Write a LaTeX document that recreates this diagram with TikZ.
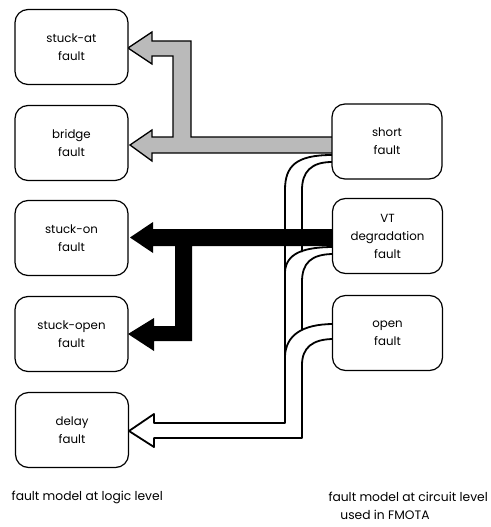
\documentclass[tikz,border=0pt]{standalone}
\usepackage{fontspec}
\setmainfont{Poppins}
\begin{document}
\begin{tikzpicture}[x=1pt,y=-1pt,
  fbox/.style={draw=black,line width=1.2pt,rounded corners=13pt,fill=white,
    minimum width=113pt,minimum height=75pt,align=center,font=\fontsize{11.8}{18}\selectfont,inner sep=0pt},
  rbox/.style={fbox,minimum width=110pt},
  pipe/.style={line width=1.8pt,line join=round},
  lbl/.style={font=\fontsize{12.3}{17}\selectfont,inner sep=0pt}]
\useasboundingbox (0,0) rectangle (490,527);
% hollow double-line pipe
\coordinate (dtip) at (129,431);
\draw[pipe] (332,155) .. controls (296,155) and (285,166) .. (285,190) -- (285,423) -- (154,423) -- (154,414) -- (dtip) -- (154,447) -- (154,438) -- (302,438) -- (302,365) .. controls (302,348) and (312,339) .. (334,339);
\draw[pipe] (332,162) .. controls (311,162) and (302,172) .. (302,190) -- (302,252);
\draw[pipe] (334,247) .. controls (304,247) and (286,253) .. (285,272);
\draw[pipe] (334,254) .. controls (311,254) and (302,263) .. (302,282) -- (302,330);
\draw[pipe] (334,324) .. controls (301,324) and (286,336) .. (285,356);
% gray arrows
\draw[line width=1.3pt,fill=black!27,line join=miter]
  (128,48) -- (152,32) -- (152,41) -- (191,41) -- (191,137) -- (336,137) -- (336,153)
  -- (152,153) -- (152,161) -- (130,145) -- (152,130) -- (152,137) -- (173,137)
  -- (173,56) -- (152,56) -- (152,64) -- cycle;
% black arrows
\fill[black] (130,237.5) -- (153,222) -- (153,229) -- (336,229) -- (336,246) -- (192,246)
  -- (192,341) -- (154,341) -- (154,351) -- (128,334) -- (154,318) -- (154,326)
  -- (175,326) -- (175,246) -- (153,246) -- (153,253) -- cycle;
% boxes
\node[fbox] (sa) at (71.5,47) {stuck-at\\fault};
\node[fbox] (br) at (71.5,143) {bridge\\fault};
\node[fbox] (son) at (71.5,238) {stuck-on\\fault};
\node[fbox] (sop) at (71.5,334) {stuck-open\\fault};
\node[fbox] (dl) at (72,430) {delay\\fault};
\node[rbox] (sh) at (387,141.5) {short\\fault};
\node[rbox] (vt) at (387.5,236) {VT\\degradation\\fault};
\node[rbox] (op) at (387.5,333) {open\\fault};
% labels
\node[lbl,anchor=east] (ll) at (163,497) {fault model at logic level};
\node[lbl,anchor=east] (rl1) at (488,497) {fault model at circuit level};
\node[lbl] (rl2) at (385,515) {used in FMOTA};
\end{tikzpicture}
\end{document}
